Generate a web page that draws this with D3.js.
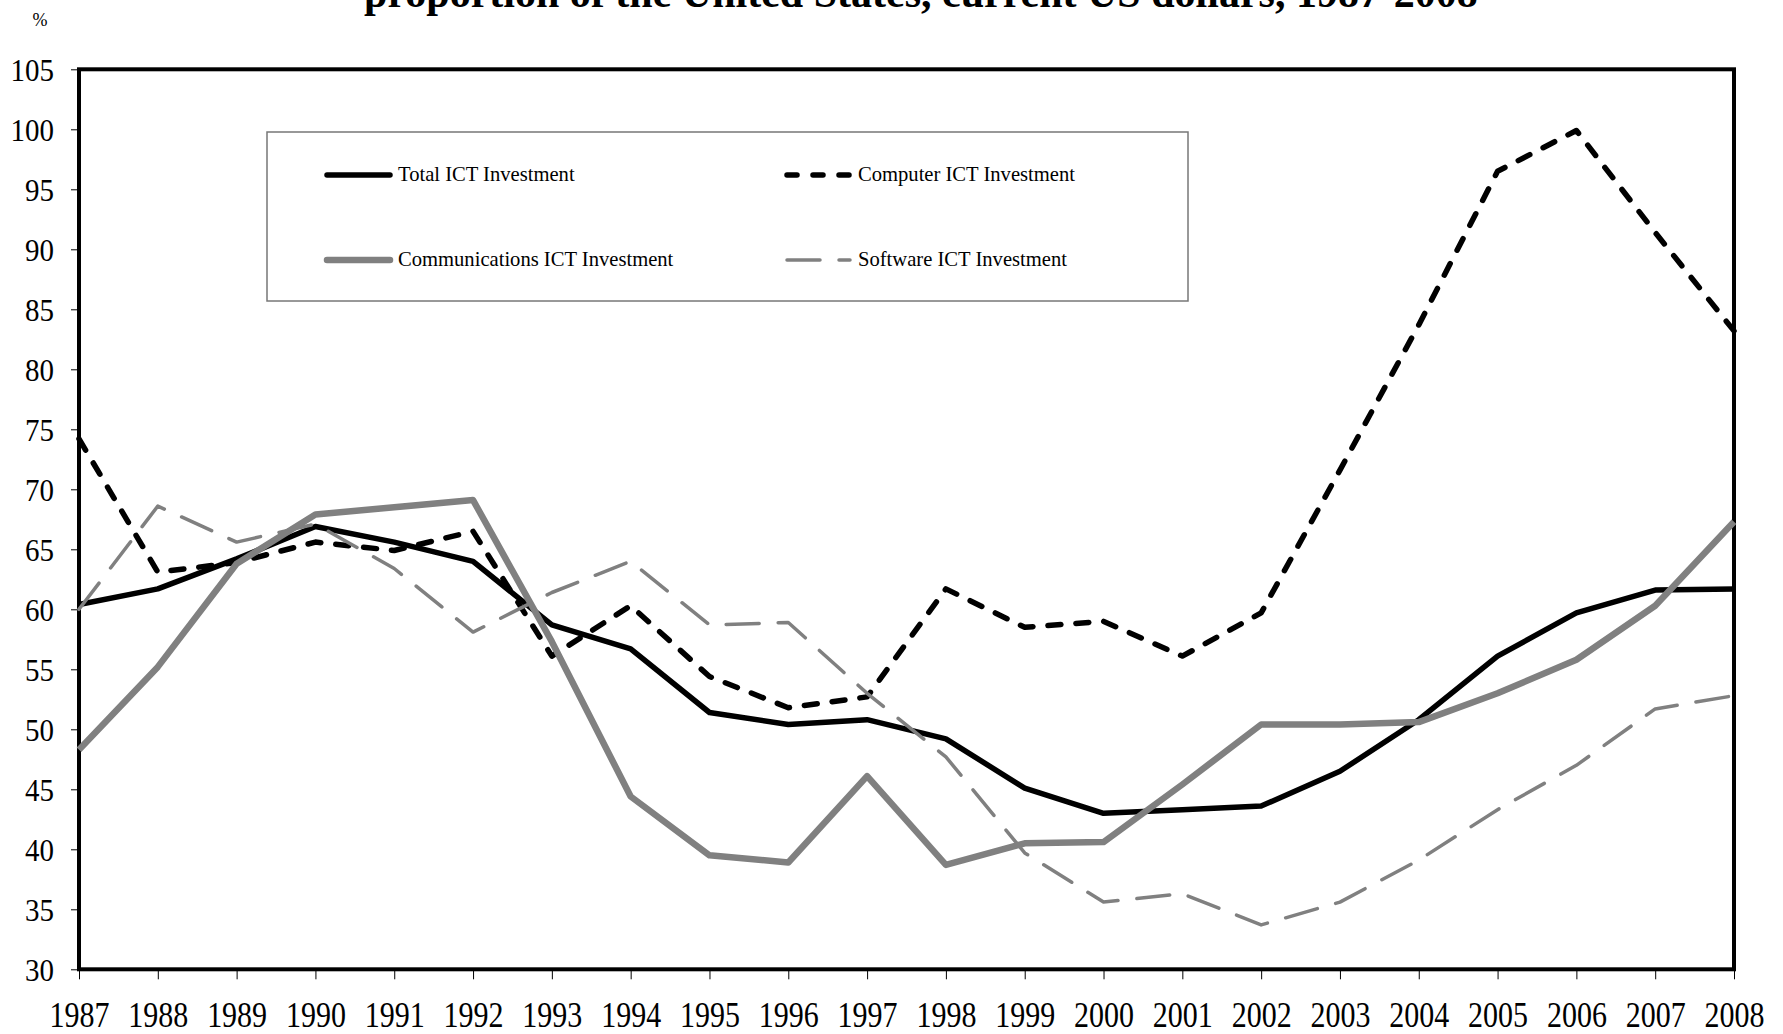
<!DOCTYPE html>
<html>
<head>
<meta charset="utf-8">
<script src="https://cdn.jsdelivr.net/npm/d3@7"></script>
<style>
  body { margin: 0; background: #fff; }
  svg { display: block; font-family: "Liberation Serif", "Times New Roman", serif; }
</style>
</head>
<body>
<svg width="1783" height="1034"></svg>
<script>
// data
var years = [1987, 1988, 1989, 1990, 1991, 1992, 1993, 1994, 1995, 1996, 1997,
             1998, 1999, 2000, 2001, 2002, 2003, 2004, 2005, 2006, 2007, 2008];
var totalICT = [60.4, 61.7, 64.2, 66.9, 65.6, 64.0, 58.7, 56.7, 51.4, 50.4, 50.8,
                49.2, 45.1, 43.0, 43.3, 43.6, 46.5, 50.8, 56.1, 59.7, 61.6, 61.7];
var computerICT = [74.2, 63.1, 63.9, 65.6, 64.9, 66.5, 56.1, 60.3, 54.4, 51.8, 52.7,
                   61.7, 58.5, 59.0, 56.1, 59.7, 71.6, 83.7, 96.5, 99.9, 91.4, 83.2];
var commsICT = [48.3, 55.2, 63.8, 67.9, 68.5, 69.1, 57.3, 44.4, 39.5, 38.9, 46.1,
                38.7, 40.5, 40.6, 45.4, 50.4, 50.4, 50.6, 53.0, 55.8, 60.3, 67.3];
var softwareICT = [60.0, 68.6, 65.6, 67.1, 63.4, 58.1, 61.4, 64.0, 58.7, 58.9, 53.0,
                   47.7, 39.7, 35.6, 36.3, 33.7, 35.6, 39.1, 43.3, 47.0, 51.7, 52.8];
var seriesNames = ["Total ICT Investment", "Computer ICT Investment",
                   "Communications ICT Investment", "Software ICT Investment"];
var yTicks = [30, 35, 40, 45, 50, 55, 60, 65, 70, 75, 80, 85, 90, 95, 100, 105];
var titleText = "proportion of the United States, current US dollars, 1987-2008";

var svg = d3.select("svg");
var plotLeft = 79, plotRight = 1734, plotTop = 69.3, plotBottom = 969.3;

var x = d3.scaleLinear().domain([1987, 2008]).range([plotLeft, plotRight]);
var y = d3.scaleLinear().domain([30, 105]).range([plotBottom, plotTop]);

// title (only its last line shows in the picture)
svg.append("text")
   .attr("x", 921)
   .attr("y", 7)
   .attr("text-anchor", "middle")
   .style("font-size", "42px")
   .style("font-weight", "bold")
   .text(titleText);

svg.append("text")
   .attr("x", 40)
   .attr("y", 26)
   .attr("text-anchor", "middle")
   .style("font-size", "18px")
   .text("%");

// y axis
var gy = svg.append("g")
   .attr("transform", "translate(" + plotLeft + ",0)")
   .call(d3.axisLeft(y).tickValues(yTicks).tickSize(8).tickPadding(0).tickFormat(d3.format("d")));
gy.select(".domain").remove();
gy.selectAll(".tick line").attr("stroke", "#000").attr("stroke-width", 1);
gy.selectAll(".tick text")
  .attr("x", -25)
  .attr("dy", "10")
  .attr("transform", "scale(1,1.12)")
  .attr("fill", "#000")
  .style("font-size", "29px")
  .style("font-family", "Liberation Serif, serif");

// x axis
var gx = svg.append("g")
   .attr("transform", "translate(0," + plotBottom + ")")
   .call(d3.axisBottom(x).tickValues(years).tickSize(10).tickFormat(d3.format("d")));
gx.select(".domain").remove();
gx.selectAll(".tick line").attr("stroke", "#000").attr("stroke-width", 1);
gx.selectAll(".tick text")
  .attr("y", 48)
  .attr("dy", 0)
  .attr("transform", "scale(1,1.2)")
  .attr("fill", "#000")
  .style("font-size", "30px")
  .style("font-family", "Liberation Serif, serif");

// plot frame
svg.append("rect")
   .attr("x", plotLeft)
   .attr("y", plotTop)
   .attr("width", plotRight - plotLeft)
   .attr("height", plotBottom - plotTop)
   .attr("fill", "none")
   .attr("stroke", "#000")
   .attr("stroke-width", 4);

var styles = [
  { color: "#000", width: 5.5, dash: null, cap: "butt" },
  { color: "#000", width: 5.5, dash: "13,15", cap: "round" },
  { color: "#808080", width: 6.5, dash: null, cap: "butt" },
  { color: "#808080", width: 3.5, dash: "33,19", cap: "round" }
];
var allSeries = [totalICT, computerICT, commsICT, softwareICT];

var line = d3.line()
  .x(function (d, i) { return x(years[i]); })
  .y(function (d) { return y(d); });

allSeries.forEach(function (vals, k) {
  var s = styles[k];
  svg.append("path")
     .datum(vals)
     .attr("d", line)
     .attr("fill", "none")
     .attr("stroke", s.color)
     .attr("stroke-width", s.width)
     .attr("stroke-linejoin", "round")
     .attr("stroke-linecap", s.cap)
     .attr("stroke-dasharray", s.dash);
});

// legend
svg.append("rect")
   .attr("x", 267)
   .attr("y", 132)
   .attr("width", 921)
   .attr("height", 169)
   .attr("fill", "#fff")
   .attr("stroke", "#777")
   .attr("stroke-width", 1.5);

var legendPos = [[324, 175], [784, 175], [324, 260], [784, 260]];
seriesNames.forEach(function (name, k) {
  var s = styles[k], p = legendPos[k];
  svg.append("line")
     .attr("x1", p[0] + 3).attr("x2", p[0] + 66)
     .attr("y1", p[1]).attr("y2", p[1])
     .attr("stroke", s.color)
     .attr("stroke-width", s.width)
     .attr("stroke-linecap", "round")
     .attr("stroke-dasharray", k === 1 ? "10,16" : s.dash);
  svg.append("text")
     .attr("x", p[0] + 74)
     .attr("y", p[1] + 6)
     .style("font-size", "20.6px")
     .text(name);
});
</script>
</body>
</html>
